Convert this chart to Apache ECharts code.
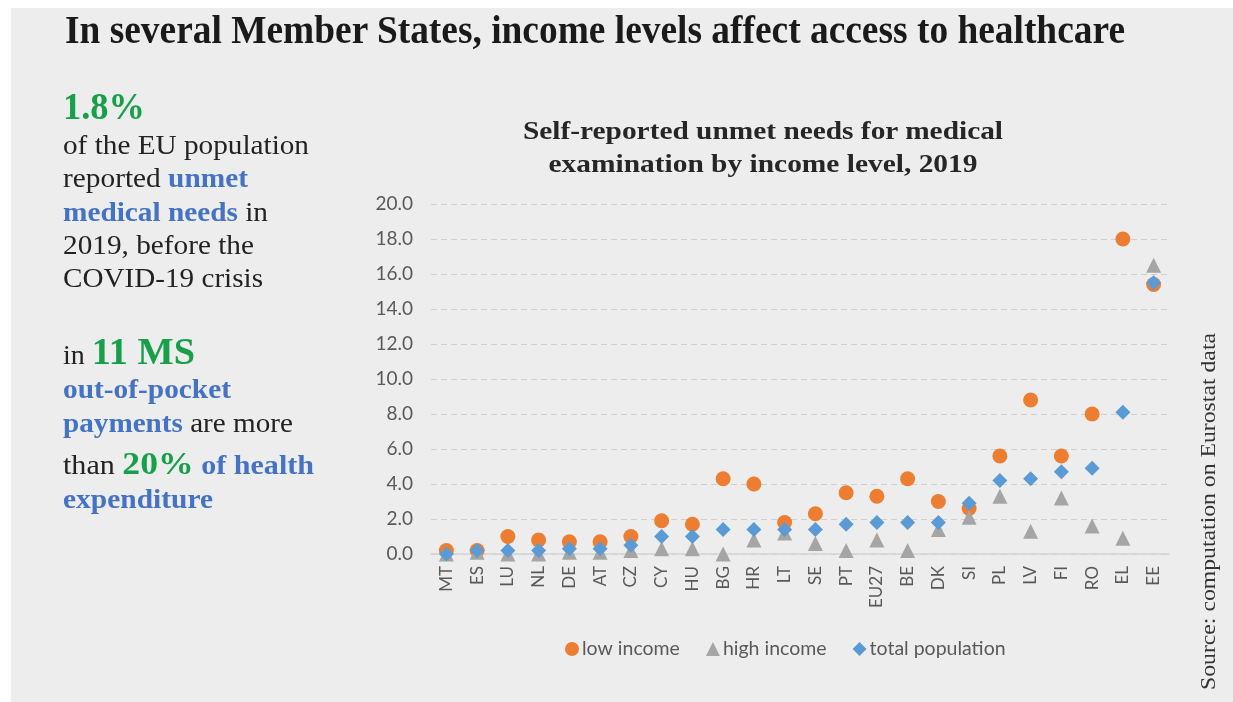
<!DOCTYPE html>
<html>
<head>
<meta charset="utf-8">
<script src="https://cdn.jsdelivr.net/npm/echarts@6/dist/echarts.min.js"></script>
<style>
  html, body { margin: 0; padding: 0; background: #ffffff; }
  #page { position: relative; width: 1233px; height: 702px; overflow: hidden; }
  #bg { position: absolute; left: 11px; top: 8px; width: 1222px; height: 694px; background: #ededed; }
  #chart { position: absolute; left: 0; top: 0; width: 1233px; height: 702px; }
  #txt { position: absolute; left: 0; top: 0; width: 1233px; height: 702px; pointer-events: none; }
  .serif { font-family: 'Liberation Serif', 'DejaVu Serif', serif; }
</style>
</head>
<body>
<div id="page">
  <div id="bg"></div>
  <div id="chart"></div>
  <svg id="txt" width="1233" height="702" xmlns="http://www.w3.org/2000/svg">
    <g class="serif" lengthAdjust="spacingAndGlyphs">
      <text x="65" y="43" font-size="40" font-weight="bold" fill="#1a1a1a" textLength="1060" lengthAdjust="spacingAndGlyphs">In several Member States, income levels affect access to healthcare</text>

      <text x="763" y="139" font-size="26" font-weight="bold" fill="#262626" text-anchor="middle" textLength="480" lengthAdjust="spacingAndGlyphs">Self-reported unmet needs for medical</text>
      <text x="763" y="172" font-size="26" font-weight="bold" fill="#262626" text-anchor="middle" textLength="429" lengthAdjust="spacingAndGlyphs">examination by income level, 2019</text>

      <text x="63" y="119" font-size="37" font-weight="bold" fill="#16a04a" textLength="82" lengthAdjust="spacingAndGlyphs">1.8%</text>
      <text x="63" y="154" font-size="27" fill="#222" textLength="246" lengthAdjust="spacingAndGlyphs">of the EU population</text>
      <text x="63" y="187" font-size="27" fill="#222" textLength="185" lengthAdjust="spacingAndGlyphs">reported <tspan font-weight="bold" fill="#4472c4">unmet</tspan></text>
      <text x="63" y="221" font-size="27" fill="#222" textLength="205" lengthAdjust="spacingAndGlyphs"><tspan font-weight="bold" fill="#4472c4">medical needs</tspan> in</text>
      <text x="63" y="254" font-size="27" fill="#222" textLength="191" lengthAdjust="spacingAndGlyphs">2019, before the</text>
      <text x="63" y="287" font-size="27" fill="#222" textLength="200" lengthAdjust="spacingAndGlyphs">COVID-19 crisis</text>

      <text x="63" y="364" font-size="27" fill="#222" textLength="132" lengthAdjust="spacingAndGlyphs">in <tspan font-size="37" font-weight="bold" fill="#16a04a">11 MS</tspan></text>
      <text x="63" y="398" font-size="27" font-weight="bold" fill="#4472c4" textLength="168" lengthAdjust="spacingAndGlyphs">out-of-pocket</text>
      <text x="63" y="432" font-size="27" fill="#222" textLength="230" lengthAdjust="spacingAndGlyphs"><tspan font-weight="bold" fill="#4472c4">payments</tspan> are more</text>
      <text x="63" y="474" font-size="27" fill="#222" textLength="251" lengthAdjust="spacingAndGlyphs">than <tspan font-size="32" font-weight="bold" fill="#16a04a">20%</tspan> <tspan font-weight="bold" fill="#4472c4">of health</tspan></text>
      <text x="63" y="508" font-size="27" font-weight="bold" fill="#4472c4" textLength="150" lengthAdjust="spacingAndGlyphs">expenditure</text>

      <text transform="translate(1215,690) rotate(-90)" font-size="21" fill="#333" textLength="357" lengthAdjust="spacingAndGlyphs">Source: computation on Eurostat data</text>
    </g>
  </svg>
</div>
<script>
const categories = ['MT','ES','LU','NL','DE','AT','CZ','CY','HU','BG','HR','LT','SE','PT','EU27','BE','DK','SI','PL','LV','FI','RO','EL','EE'];
const lowIncome = [0.2,0.2,1.0,0.8,0.7,0.7,1.0,1.9,1.7,4.3,4.0,1.8,2.3,3.5,3.3,4.3,3.0,2.6,5.6,8.8,5.6,8.0,18.0,15.4];
const highIncome = [0.0,0.1,0.0,0.0,0.1,0.1,0.2,0.3,0.3,0.0,0.8,1.2,0.6,0.2,0.8,0.2,1.4,2.1,3.3,1.3,3.2,1.6,0.9,16.5];
const totalPopulation = [0.0,0.2,0.2,0.2,0.3,0.3,0.5,1.0,1.0,1.4,1.4,1.4,1.4,1.7,1.8,1.8,1.8,2.9,4.2,4.3,4.7,4.9,8.1,15.5];
const seriesNames = ['low income','high income','total population'];

const chart = echarts.init(document.getElementById('chart'), null, { renderer: 'canvas' });
const labelFont = 'Lato, "Noto Sans", sans-serif';
chart.setOption({
  backgroundColor: 'transparent',
  animation: false,
  grid: { left: 431, right: 64, top: 204, bottom: 148, containLabel: false },
  legend: {
    data: [
      { name: seriesNames[0], icon: 'circle' },
      { name: seriesNames[1], icon: 'triangle' },
      { name: seriesNames[2], icon: 'diamond' }
    ],
    left: 560, top: 634,
    itemWidth: 14, itemHeight: 14, itemGap: 26,
    textStyle: { fontFamily: labelFont, fontSize: 19.5, color: '#595959', padding: [0, 0, 0, -2] }
  },
  xAxis: {
    type: 'category',
    data: categories,
    boundaryGap: true,
    axisLine: { show: true, lineStyle: { color: '#d4d4d4', width: 1.5 } },
    axisTick: { show: false },
    axisLabel: { rotate: 90, fontFamily: labelFont, fontSize: 17, color: '#595959', margin: 12, interval: 0 },
    splitLine: { show: false }
  },
  yAxis: {
    type: 'value',
    min: 0, max: 20, interval: 2,
    axisLine: { show: false },
    axisTick: { show: false },
    axisLabel: { fontFamily: labelFont, fontSize: 19, color: '#595959', margin: 18, formatter: v => v.toFixed(1) },
    splitLine: { show: true, lineStyle: { color: '#cfcfcf', type: [6, 4], width: 1.2 } }
  },
  series: [
    { name: seriesNames[0], type: 'scatter', data: lowIncome, symbol: 'circle', symbolSize: 15, itemStyle: { color: '#ed7d31', opacity: 1 } },
    { name: seriesNames[1], type: 'scatter', data: highIncome, symbol: 'triangle', symbolSize: 15, itemStyle: { color: '#a5a5a5', opacity: 1 } },
    { name: seriesNames[2], type: 'scatter', data: totalPopulation, symbol: 'diamond', symbolSize: 15, itemStyle: { color: '#5b9bd5', opacity: 1 } }
  ]
});
</script>
</body>
</html>
